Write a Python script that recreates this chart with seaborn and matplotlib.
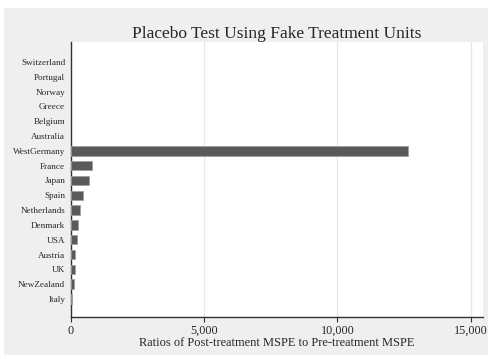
import matplotlib
matplotlib.use("Agg")
import matplotlib.pyplot as plt
import seaborn as sns
import pandas as pd
from matplotlib.patches import Rectangle

# ratios of post/pre treatment MSPE
countries = ['Switzerland', 'Portugal', 'Norway', 'Greece', 'Belgium', 'Australia',
             'WestGermany', 'France', 'Japan', 'Spain', 'Netherlands', 'Denmark',
             'USA', 'Austria', 'UK', 'NewZealand', 'Italy']
ratios = [0, 0, 0, 0, 0, 0,
          12660, 810, 690, 460, 350, 275,
          240, 165, 160, 125, 40]
xticks = [0, 5000, 10000, 15000]
xticklabels = ['0', '5,000', '10,000', '15,000']

df = pd.DataFrame({'country': countries, 'ratio': ratios})

sns.set_style("whitegrid")
plt.rcParams['font.family'] = ['Liberation Serif', 'DejaVu Serif']

fig = plt.figure(figsize=(4.88, 3.59), dpi=100, facecolor='white')
# gray plot region behind everything, leaves a thin white margin top/left
fig.patches.append(Rectangle((4/488, 1-355/359), 484/488, 347/359, transform=fig.transFigure,
                             facecolor='#efefef', edgecolor='none', zorder=-10))
ax = fig.add_axes([70.7/488, 1-317/359, (483-70.7)/488, (317-42)/359])
ax.set_facecolor('white')

sns.barplot(data=df, x='ratio', y='country', orient='h', color='#5a5a5a', width=0.63,
            edgecolor='#a0a0a0', linewidth=0.6, saturation=1, ax=ax, zorder=3)
# no outline on the empty bars
for p in ax.patches:
    if p.get_width() == 0:
        p.set_linewidth(0)

ax.set_xlim(0, 15465)
ax.set_ylim(17.22, -1.35)
ax.set_xticks(xticks)
ax.set_xticklabels(xticklabels, fontsize=8.7)
ax.tick_params(axis='y', labelsize=6.6, length=0, pad=4)
ax.tick_params(axis='x', length=3.6, width=0.8, color='#333333', pad=2, bottom=True)
ax.grid(axis='x', color='#e6e6e6', linewidth=0.9, zorder=0)
ax.grid(axis='y', visible=False)
for s in ['top', 'right']:
    ax.spines[s].set_visible(False)
for s in ['left', 'bottom']:
    ax.spines[s].set_color('#333333')
    ax.spines[s].set_linewidth(1.0)

ax.set_ylabel('')
ax.set_xlabel('Ratios of Post-treatment MSPE to Pre-treatment MSPE', fontsize=8.9, labelpad=0)
ax.set_title('Placebo Test Using Fake Treatment Units', fontsize=12.5, pad=3)

fig.savefig('out.png', dpi=100, facecolor=fig.get_facecolor())
